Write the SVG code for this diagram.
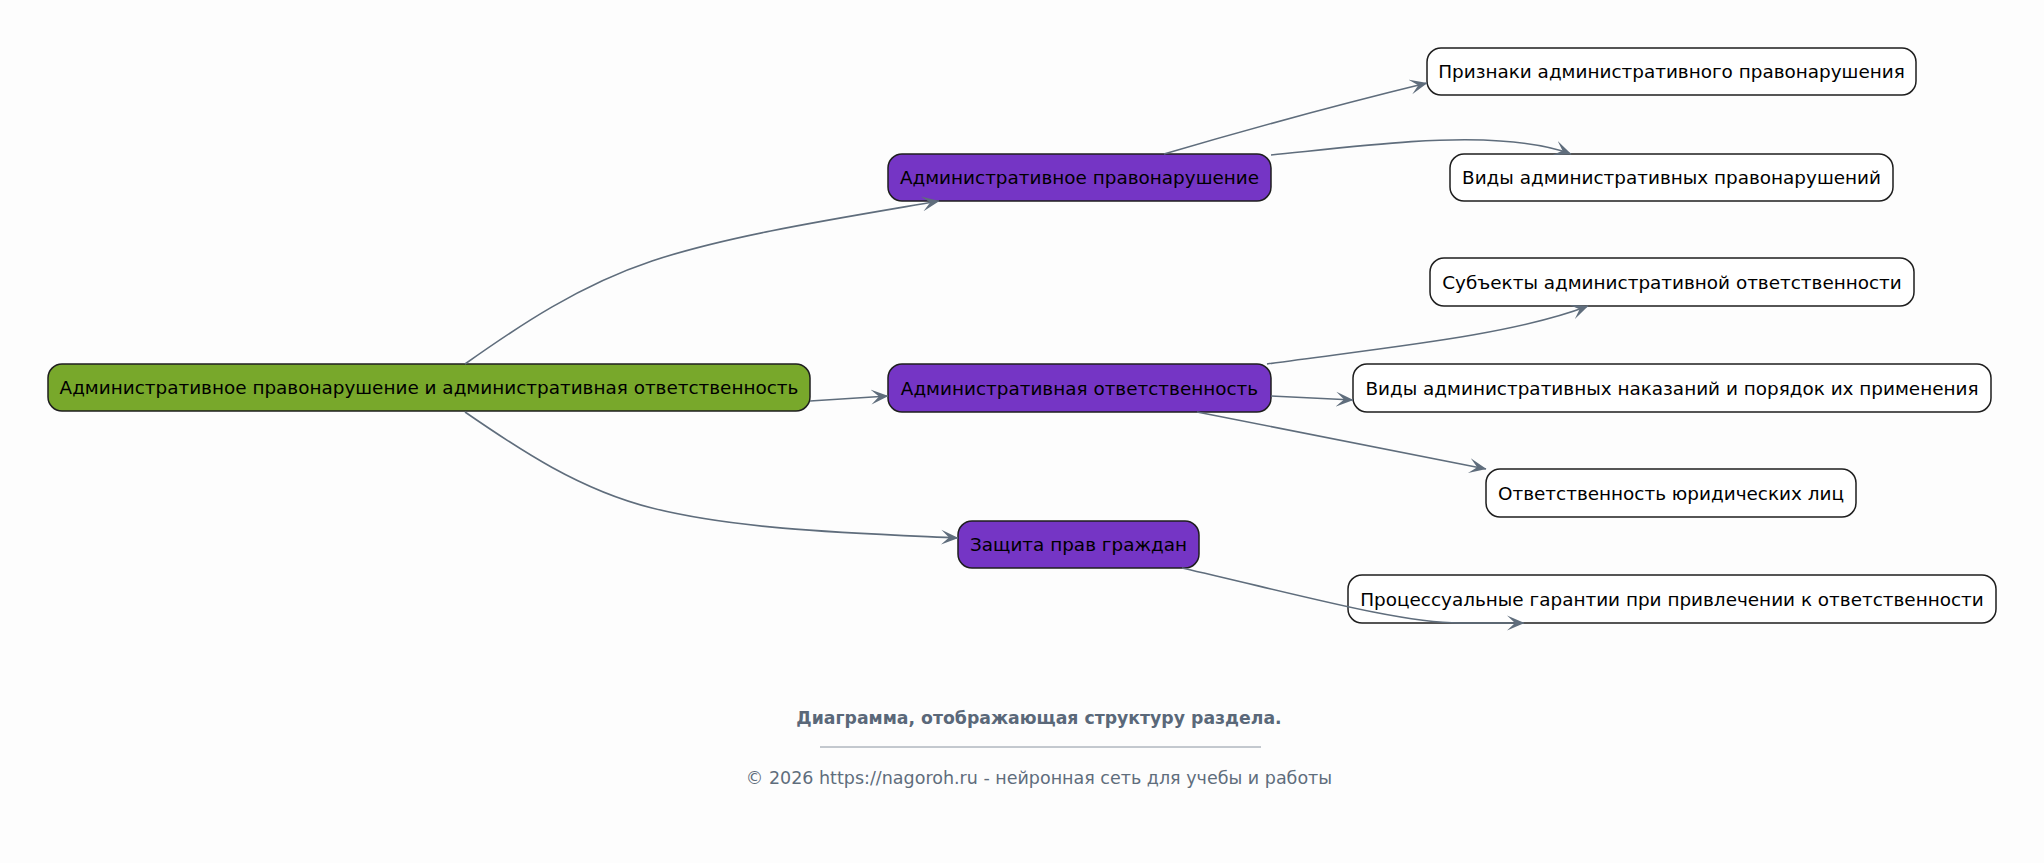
<svg xmlns="http://www.w3.org/2000/svg" width="2044" height="863" viewBox="0 0 2044 863">
<style>
.bg{fill:#fdfdfd}
.n rect{stroke:#1e1e1e;stroke-width:1.5}
.root rect{fill:#78a82b}
.l1 rect{fill:#7535c5}
.l2 rect{fill:#ffffff}
.n text{font-family:"DejaVu Sans",sans-serif;font-size:18.4px;fill:#000;text-anchor:middle}
.e path{fill:none;stroke:#5f6d7c;stroke-width:1.6;marker-end:url(#arr)}
.cap{font-family:"DejaVu Sans",sans-serif;font-size:17.3px;font-weight:bold;fill:#5a6879;text-anchor:middle}
.copy{font-family:"DejaVu Sans",sans-serif;font-size:17.5px;fill:#5f6d7c;text-anchor:middle}
</style>
<defs>
<marker id="arr" viewBox="0 0 18 16" refX="17" refY="8" markerWidth="18" markerHeight="16" markerUnits="userSpaceOnUse" orient="auto">
<path d="M0,0.5 L17.5,8 L0,15.5 L8,8 Z" fill="#5f6d7c"/>
</marker>
</defs>
<rect class="bg" x="0" y="0" width="2044" height="863"/>
<g id="root" class="n root"><rect x="48" y="364" width="762" height="47" rx="14"/><text x="429" y="394">Административное правонарушение и административная ответственность</text></g>
<g id="n1" class="n l1"><rect x="888" y="154" width="383" height="47" rx="14"/><text x="1079.5" y="184">Административное правонарушение</text></g>
<g id="n2" class="n l1"><rect x="888" y="364" width="383" height="48" rx="14"/><text x="1079.5" y="394.5">Административная ответственность</text></g>
<g id="n3" class="n l1"><rect x="958" y="521" width="241" height="47" rx="14"/><text x="1078.5" y="551">Защита прав граждан</text></g>
<g id="n11" class="n l2"><rect x="1427" y="48" width="489" height="47" rx="14"/><text x="1671.5" y="78">Признаки административного правонарушения</text></g>
<g id="n12" class="n l2"><rect x="1450" y="154" width="443" height="47" rx="14"/><text x="1671.5" y="184">Виды административных правонарушений</text></g>
<g id="n21" class="n l2"><rect x="1430" y="258" width="484" height="48" rx="14"/><text x="1672" y="288.5">Субъекты административной ответственности</text></g>
<g id="n22" class="n l2"><rect x="1353" y="364" width="638" height="48" rx="14"/><text x="1672" y="394.5">Виды административных наказаний и порядок их применения</text></g>
<g id="n23" class="n l2"><rect x="1486" y="469" width="370" height="48" rx="14"/><text x="1671" y="499.5">Ответственность юридических лиц</text></g>
<g id="n31" class="n l2"><rect x="1348" y="575" width="648" height="48" rx="14"/><text x="1672" y="605.5">Процессуальные гарантии при привлечении к ответственности</text></g>
<g id="connectors" class="e">
<path d="M465,364 C520,325 580,285 652,261 C730,235 840,218 939,201"/>
<path d="M810,401 L888,396"/>
<path d="M465,412 C520,450 580,490 652,508 C740,530 850,533 958,538"/>
<path d="M1164,154 Q1300,114 1427,83"/>
<path d="M1271,155 C1360,146 1440,136 1500,141 C1530,143 1555,148 1571,154"/>
<path d="M1267,364 C1380,348 1510,336 1588,306"/>
<path d="M1271,396 L1353,400"/>
<path d="M1197,412 Q1340,440 1486,469"/>
<path d="M1182,568 C1300,595 1400,623 1460,623 L1524,623"/>
</g>
<g id="footer">
<text class="cap" x="1039" y="724">Диаграмма, отображающая структуру раздела.</text>
<line x1="820" y1="747" x2="1261" y2="747" stroke="#8a94a0" stroke-width="1"/>
<text class="copy" x="1039" y="784">© 2026 https://nagoroh.ru - нейронная сеть для учебы и работы</text>
</g>
</svg>
